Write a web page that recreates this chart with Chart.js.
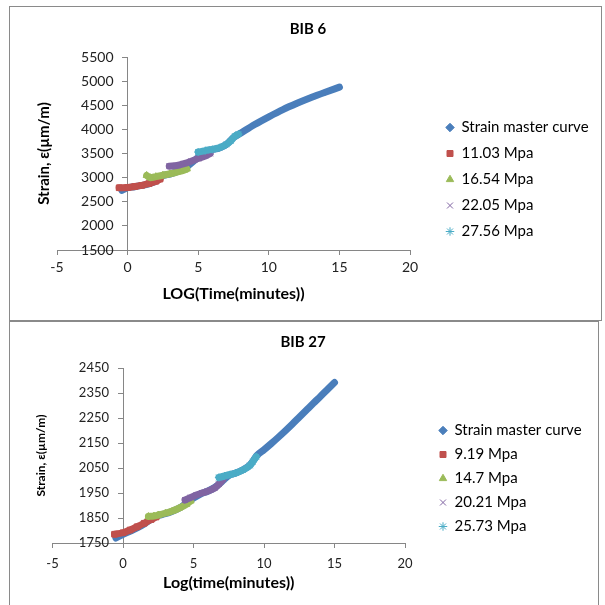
<!DOCTYPE html>
<html><head><meta charset="utf-8">
<script src="https://cdn.jsdelivr.net/npm/chart.js@4.4.1/dist/chart.umd.min.js"></script>
<style>
html,body{margin:0;padding:0;background:#fff;width:605px;height:605px;overflow:hidden;}
.box{position:absolute;border:1px solid #8a8a8a;background:#fff;}
#b1{left:9px;top:6px;width:591px;height:313px;}
#b2{left:9px;top:321px;width:588px;height:284px;}
canvas{display:block;}
</style></head><body>
<div class="box" id="b1"><canvas id="c1" width="591" height="313"></canvas></div>
<div class="box" id="b2"><canvas id="c2" width="588" height="284"></canvas></div>
<script>
// ---------- BIB 6 ----------
const bib6Title = 'BIB 6';
const bib6XTitle = 'LOG(Time(minutes))';
const bib6YTitle = 'Strain, ε(µm/m)';
const bib6XTicks = [-5, 0, 5, 10, 15, 20];
const bib6YTicks = [1500, 2000, 2500, 3000, 3500, 4000, 4500, 5000, 5500];
const bib6Labels = ['Strain master curve', '11.03 Mpa', '16.54 Mpa', '22.05 Mpa', '27.56 Mpa'];
const bib6MasterX = [-0.4, 0, 0.5, 1, 1.5, 2, 2.5, 3, 3.5, 4, 4.5, 5, 5.5, 6, 6.5, 7, 7.5, 8, 9, 10, 11, 12, 13, 14, 15];
const bib6MasterY = [2735, 2790, 2812, 2838, 2872, 2925, 3040, 3075, 3120, 3190, 3300, 3420, 3545, 3580, 3615, 3690, 3830, 3920, 4100, 4260, 4410, 4540, 4660, 4770, 4875];
const bib6S1X = [-0.6, 0, 0.5, 1, 1.5, 2, 2.3];
const bib6S1Y = [2790, 2795, 2815, 2840, 2875, 2925, 2970];
const bib6S2X = [1.35, 1.6, 2, 2.5, 3, 3.5, 4, 4.2];
const bib6S2Y = [3045, 3000, 3020, 3050, 3080, 3115, 3155, 3180];
const bib6S3X = [2.95, 3.5, 4, 4.5, 5, 5.5, 5.85];
const bib6S3Y = [3235, 3250, 3290, 3340, 3395, 3450, 3500];
const bib6S4X = [5.0, 5.5, 6, 6.5, 7, 7.3, 7.6, 7.85];
const bib6S4Y = [3530, 3560, 3585, 3620, 3690, 3760, 3860, 3900];

// ---------- BIB 27 ----------
const bib27Title = 'BIB 27';
const bib27XTitle = 'Log(time(minutes))';
const bib27YTitle = 'Strain, ε(µm/m)';
const bib27XTicks = [-5, 0, 5, 10, 15, 20];
const bib27YTicks = [1750, 1850, 1950, 2050, 2150, 2250, 2350, 2450];
const bib27Labels = ['Strain master curve', '9.19 Mpa', '14.7 Mpa', '20.21 Mpa', '25.73 Mpa'];
const bib27MasterX = [-0.5, 0, 0.5, 1, 1.5, 2, 2.5, 3, 3.5, 4, 4.5, 5, 5.5, 6, 6.5, 7, 7.5, 8, 8.5, 9, 9.5, 10, 10.5, 11, 11.5, 12, 12.5, 13, 13.5, 14, 14.5, 15];
const bib27MasterY = [1770, 1785, 1797, 1810, 1826, 1845, 1860, 1867, 1877, 1890, 1910, 1930, 1946, 1957, 1972, 1995, 2020, 2030, 2043, 2062, 2100, 2123, 2147, 2172, 2198, 2225, 2253, 2281, 2309, 2336, 2364, 2392];
const bib27S1X = [-0.6, 0, 0.5, 1, 1.5, 2, 2.35];
const bib27S1Y = [1785, 1791, 1802, 1815, 1829, 1844, 1854];
const bib27S2X = [1.8, 2.2, 2.5, 3, 3.5, 4, 4.5, 4.8];
const bib27S2Y = [1856, 1858, 1862, 1869, 1878, 1890, 1905, 1918];
const bib27S3X = [4.4, 4.8, 5.2, 5.6, 6, 6.5, 6.8, 7.1];
const bib27S3Y = [1922, 1932, 1942, 1950, 1957, 1970, 1985, 2005];
const bib27S4X = [6.8, 7.2, 7.6, 8, 8.5, 9, 9.2, 9.45];
const bib27S4Y = [2012, 2018, 2024, 2030, 2042, 2060, 2075, 2095];

const seriesColors = ['#4A7EBB', '#C0504D', '#9BBB59', '#8064A2', '#4BACC6'];
const seriesStyles = ['rectRot', 'rect', 'triangle', 'crossRot', 'star'];
const FONT = 'Lato, "Open Sans", sans-serif';
const LEGEND_SIZE = 15;

function pts(xs, ys) { return xs.map((x, i) => ({x: x, y: ys[i]})); }

function makeDataset(label, data, idx) {
  const c = seriesColors[idx];
  return {
    label: label,
    data: data,
    showLine: true,
    borderColor: c,
    backgroundColor: c,
    borderWidth: 7,
    borderCapStyle: 'round',
    borderJoinStyle: 'round',
    cubicInterpolationMode: 'monotone',
    pointStyle: seriesStyles[idx],
    pointRadius: idx === 0 ? 3 : 4,
    pointBorderWidth: 1,
    order: 4 - idx,
    yAxisID: 'y',
    xAxisID: 'x'
  };
}

// shift y tick labels left of the axis line (Excel-like gap)
const yLabelShift = {
  id: 'yLabelShift',
  beforeDraw(chart, args, opts) {
    const s = chart.scales.y;
    s.getLabelItems().forEach(it => {
      if (!it._shifted) { it.options.translation[0] -= opts.shift; it._shifted = true; }
    });
  }
};

function build(id, cfg) {
  const canvas = document.getElementById(id);
  const W = canvas.width;
  const ctx = canvas.getContext('2d');
  ctx.font = LEGEND_SIZE + 'px ' + FONT;
  const textW = Math.max(...cfg.labels.map(l => ctx.measureText(l).width));
  const legendW = cfg.legendPad + 8 + LEGEND_SIZE / 2 + textW + 10;
  const gapW = cfg.legendLeft - cfg.chartRight;
  const padR = Math.max(0, W - cfg.legendLeft - legendW);
  const padL = Math.max(0, padR + 2 * (cfg.titleCenter - W / 2));
  const ytW = cfg.chartLeft - padL;
  const yTitlePadTop = cfg.yTitleX - padL - cfg.yTitleSize * 1.2 / 2;
  const datasets = cfg.series.map((s, i) => makeDataset(cfg.labels[i], pts(s[0], s[1]), i));
  new Chart(canvas, {
    type: 'scatter',
    data: {datasets: datasets},
    plugins: [yLabelShift],
    options: {
      responsive: false,
      animation: false,
      events: [],
      layout: {padding: {left: padL, right: padR, top: 0, bottom: 0}},
      plugins: {
        yLabelShift: {shift: cfg.yLabelShift},
        tooltip: {enabled: false},
        title: {
          display: true, text: cfg.title, color: '#000',
          font: {family: FONT, size: 15, weight: 'bold'},
          padding: {top: cfg.titlePadTop, bottom: cfg.titlePadBottom}
        },
        legend: {
          position: 'right', align: 'end', fullSize: false, maxWidth: 260,
          labels: {
            usePointStyle: true, boxWidth: 8, boxHeight: 6,
            padding: cfg.legendPad, color: '#000',
            font: {family: FONT, size: LEGEND_SIZE},
            sort: (a, b) => a.datasetIndex - b.datasetIndex,
            generateLabels: (chart) => {
              const items = Chart.defaults.plugins.legend.labels.generateLabels(chart);
              items.forEach(it => { it.lineWidth = 1; });
              return items;
            }
          }
        }
      },
      scales: {
        x: {
          type: 'linear', position: 'bottom', min: cfg.xTicks[0], max: cfg.xTicks[cfg.xTicks.length - 1],
          afterBuildTicks: s => { s.ticks = cfg.xTicks.map(v => ({value: v})); },
          afterFit: s => { s.height = cfg.xAxisH; },
          grid: {drawOnChartArea: false, drawTicks: true, tickLength: 5, color: '#868686'},
          border: {display: true, color: '#868686', width: 1},
          ticks: {color: '#222', font: {family: FONT, size: cfg.tickSize}, padding: cfg.xTickPad, maxRotation: 0,
                  callback: v => String(v)},
          title: {display: true, text: cfg.xTitle, color: '#000', font: {family: FONT, size: 16, weight: 'bold'}, padding: {top: 0, bottom: cfg.xTitlePadBottom}}
        },
        y: {
          type: 'linear', position: {x: 0}, min: cfg.yTicks[0], max: cfg.yTicks[cfg.yTicks.length - 1],
          afterBuildTicks: s => { s.ticks = cfg.yTicks.map(v => ({value: v})); },
          grid: {drawOnChartArea: false, drawTicks: true, tickLength: 5, color: '#868686'},
          border: {display: true, color: '#868686', width: 1},
          ticks: {color: '#222', font: {family: FONT, size: cfg.tickSize}, callback: v => String(v)}
        },
        yt: {
          type: 'linear', axis: 'y', position: 'left', display: true,
          afterFit: s => { s.width = ytW; },
          grid: {display: false}, border: {display: false},
          ticks: {display: false},
          title: {display: true, text: cfg.yTitle, color: '#000', font: {family: FONT, size: cfg.yTitleSize, weight: 'bold'}, padding: {top: yTitlePadTop, bottom: 0}}
        },
        gap: {
          type: 'linear', axis: 'y', position: 'right', display: true,
          afterFit: s => { s.width = gapW; },
          grid: {display: false}, border: {display: false},
          ticks: {display: false}
        }
      }
    }
  });
}

build('c1', {
  title: bib6Title, xTitle: bib6XTitle, yTitle: bib6YTitle,
  xTicks: bib6XTicks, yTicks: bib6YTicks, labels: bib6Labels,
  series: [[bib6MasterX, bib6MasterY], [bib6S1X, bib6S1Y], [bib6S2X, bib6S2Y], [bib6S3X, bib6S3Y], [bib6S4X, bib6S4Y]],
  titlePadTop: 13, titlePadBottom: 19, titleCenter: 298, legendPad: 11, legendLeft: 425, tickSize: 14, xTickPad: 4,
  xAxisH: 70, xTitlePadBottom: 17, chartLeft: 47, chartRight: 400, yTitleSize: 15, yTitleX: 34, yLabelShift: 14
});
build('c2', {
  title: bib27Title, xTitle: bib27XTitle, yTitle: bib27YTitle,
  xTicks: bib27XTicks, yTicks: bib27YTicks, labels: bib27Labels,
  series: [[bib27MasterX, bib27MasterY], [bib27S1X, bib27S1Y], [bib27S2X, bib27S2Y], [bib27S3X, bib27S3Y], [bib27S4X, bib27S4Y]],
  titlePadTop: 11, titlePadBottom: 17, titleCenter: 293, legendPad: 9, legendLeft: 420, tickSize: 13, xTickPad: 8,
  xAxisH: 63, xTitlePadBottom: 14, chartLeft: 42.5, chartRight: 395, yTitleSize: 12, yTitleX: 31, yLabelShift: 14
});
</script>
</body></html>
